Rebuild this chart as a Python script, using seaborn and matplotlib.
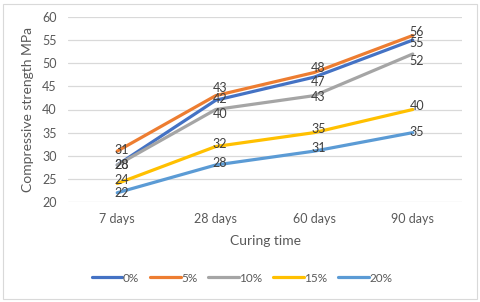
import matplotlib
matplotlib.use("Agg")
import matplotlib.pyplot as plt
import seaborn as sns
import pandas as pd
from matplotlib.patches import Rectangle

categories = ["7 days", "28 days", "60 days", "90 days"]
series_names = ["0%", "5%", "10%", "15%", "20%"]
s0 = [28, 42, 47, 55]
s5 = [31, 43, 48, 56]
s10 = [28, 40, 43, 52]
s15 = [24, 32, 35, 40]
s20 = [22, 28, 31, 35]
series_values = [s0, s5, s10, s15, s20]
yticks = [20, 25, 30, 35, 40, 45, 50, 55, 60]

colors = ["#4472C4", "#ED7D31", "#A5A5A5", "#FFC000", "#5B9BD5"]
# label offsets in pixels (dy)
label_dy = [
    [0, 1, -5, -3],
    [1, 8, 5, 4],
    [0, -4, -1, -7],
    [4, 2, 4, 3],
    [0, 2, 3, 1],
]

rows = []
for name, vals in zip(series_names, series_values):
    for c, v in zip(categories, vals):
        rows.append({"Curing time": c, "Strength": v, "Mix": name})
df = pd.DataFrame(rows)

sns.set_theme(style="white")
plt.rcParams["font.family"] = ["Lato", "DejaVu Sans"]
txt = "#595959"

fig = plt.figure(figsize=(4.8, 3.02), dpi=100)
ax = fig.add_axes([68/480, 1-202/302, (462-68)/480, (202-17)/302])

sns.lineplot(data=df, x="Curing time", y="Strength", hue="Mix",
             hue_order=series_names, palette=colors, sort=False,
             linewidth=2.3, ax=ax, legend=True)

for i, (name, vals) in enumerate(zip(series_names, series_values)):
    for j, v in enumerate(vals):
        ax.annotate(str(v), (j, v), xytext=(4, label_dy[i][j]),
                    textcoords="offset pixels", ha="center", va="center",
                    fontsize=9, color="#404040")

ax.set_xlim(-0.5, 3.5)
ax.set_ylim(20, 60)
ax.set_yticks(yticks)
ax.set_xticks(range(len(categories)))
ax.set_xticklabels(categories)
ax.yaxis.grid(True, color="#D9D9D9", linewidth=0.9)
ax.xaxis.grid(False)
for s in ax.spines.values():
    s.set_visible(False)
ax.tick_params(axis="both", length=0, labelsize=9, labelcolor=txt)
ax.tick_params(axis="x", pad=8)
ax.tick_params(axis="y", pad=8)
ax.set_xlabel("Curing time", fontsize=10, color=txt, labelpad=7)
ax.set_ylabel("Compressive strength MPa", fontsize=10, color=txt, labelpad=6)

handles, labels = ax.get_legend_handles_labels()
ax.legend_.remove()
fig.legend(handles, labels, loc="center", bbox_to_anchor=(242/480, 1-278/302),
           ncol=5, frameon=False, fontsize=8.5, handlelength=2.6,
           columnspacing=0.9, handletextpad=0.05, labelcolor=txt)

fig.patches.append(Rectangle((3/480, 3/302), 474/480, 295/302,
                             transform=fig.transFigure, fill=False,
                             edgecolor="#D9D9D9", linewidth=0.8))

fig.savefig("out.png", dpi=100)
